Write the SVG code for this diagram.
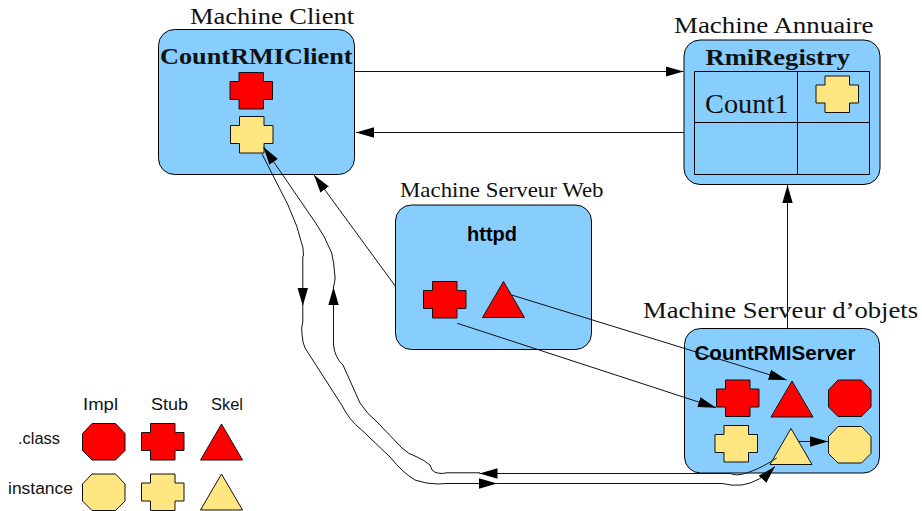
<svg xmlns="http://www.w3.org/2000/svg" width="922" height="511" viewBox="0 0 922 511">
<style>
.box{fill:#87ceff;stroke:#000;stroke-width:1}
.r{fill:#ff0000;stroke:#111;stroke-width:1;stroke-linejoin:miter}
.y{fill:#ffe680;stroke:#111;stroke-width:1;stroke-linejoin:miter}
.grid{fill:none;stroke:#000;stroke-width:1}
.cm{font-family:"Liberation Serif",serif;fill:#111;font-size:24px}
.cmb{font-family:"Liberation Serif",serif;font-weight:bold;fill:#111;font-size:24px}
.hb{font-family:"Liberation Sans",sans-serif;font-weight:bold;fill:#000;font-size:20px}
.ss{font-family:"Liberation Sans",sans-serif;fill:#111;font-size:16px}
.c{fill:none;stroke:#111;stroke-width:1}
.a{marker-end:url(#ah)}
</style>
<defs>
<marker id="ah" markerUnits="userSpaceOnUse" markerWidth="20" markerHeight="16" viewBox="0 0 20 16" refX="18" refY="8" orient="auto"><path d="M0 2.800L18 8L0 13.200Z" fill="#000"/></marker>
<path id="cross" d="M9 0H33.500V9H42.500V27H33.500V36.500H9V27H0V9H9Z"/>
<path id="oct" d="M9.500 0H33L42.500 10V27L33 36.500H9.500L0 27V10Z"/>
<path id="tri" d="M21 0L42 36H0Z"/>
</defs>
<g id="client">
<rect class="box" x="158.500" y="29.500" width="196" height="145" rx="16"/>
<text class="cm" x="190" y="23.500" textLength="164" lengthAdjust="spacingAndGlyphs">Machine Client</text>
<text class="cmb" x="160" y="64" textLength="192.500" lengthAdjust="spacingAndGlyphs">CountRMIClient</text>
<use href="#cross" class="r" x="230" y="72.500"/>
<use href="#cross" class="y" x="230.500" y="116.500"/>
</g>
<g id="annuaire">
<rect class="box" x="684" y="40" width="196" height="144.500" rx="16"/>
<text class="cm" x="674" y="32.500" textLength="199.500" lengthAdjust="spacingAndGlyphs">Machine Annuaire</text>
<text class="cmb" x="705.500" y="64.500" textLength="144.500" lengthAdjust="spacingAndGlyphs">RmiRegistry</text>
<path class="grid" d="M694.500 71.500H869.500V174.500H694.500ZM797.500 71.500V174.500M694.500 122.500H869.500"/>
<text class="cm" x="705" y="112.500" style="font-size:28px" textLength="83.500" lengthAdjust="spacingAndGlyphs">Count1</text>
<use href="#cross" class="y" x="816" y="76"/>
</g>
<g id="web">
<rect class="box" x="395.500" y="205" width="196" height="144.500" rx="16"/>
<text class="cm" x="400" y="197" style="font-size:21px" textLength="203.500" lengthAdjust="spacingAndGlyphs">Machine Serveur Web</text>
<text class="hb" x="467" y="241" textLength="50" lengthAdjust="spacingAndGlyphs">httpd</text>
<use href="#cross" class="r" x="423.500" y="281.500"/>
<use href="#tri" class="r" x="482.500" y="281.500"/>
</g>
<g id="server">
<rect class="box" x="684.500" y="328.500" width="195" height="144.500" rx="16"/>
<text class="cm" x="643" y="318" textLength="275" lengthAdjust="spacingAndGlyphs">Machine Serveur d’objets</text>
<text class="hb" x="694.500" y="360" textLength="161" lengthAdjust="spacingAndGlyphs">CountRMIServer</text>
<use href="#cross" class="r" x="716.500" y="380"/>
<use href="#tri" class="r" x="771" y="381"/>
<use href="#oct" class="r" x="828.500" y="380"/>
<use href="#cross" class="y" x="715" y="425.500"/>
<use href="#tri" class="y" x="770" y="428.500"/>
<use href="#oct" class="y" x="828.500" y="426.500"/>
</g>
<g id="legend">
<text class="ss" x="83" y="410" textLength="35" lengthAdjust="spacingAndGlyphs">Impl</text>
<text class="ss" x="151" y="410" textLength="37" lengthAdjust="spacingAndGlyphs">Stub</text>
<text class="ss" x="211" y="410" textLength="32" lengthAdjust="spacingAndGlyphs">Skel</text>
<text class="ss" x="18" y="444" textLength="42" lengthAdjust="spacingAndGlyphs">.class</text>
<text class="ss" x="8" y="494" textLength="65" lengthAdjust="spacingAndGlyphs">instance</text>
<use href="#oct" class="r" x="82.500" y="423.500"/>
<use href="#cross" class="r" x="141.500" y="423.500"/>
<use href="#tri" class="r" x="200.500" y="424"/>
<use href="#oct" class="y" x="82.500" y="474"/>
<use href="#cross" class="y" x="141.500" y="474"/>
<use href="#tri" class="y" x="200.500" y="474"/>
</g>
<g id="connectors">
<path class="c a" d="M354.500 71.500H683.500"/>
<path class="c a" d="M684 132.500H356"/>
<path class="c a" d="M787.500 328V185"/>
<path class="c a" d="M395.700 286.700L314 175"/>
<path class="c a" d="M511.700 295L786.700 380"/>
<path class="c a" d="M457.300 323.300L716 407.700"/>
<path class="c a" d="M799 441.500H828"/>
<path class="c a" d="M262 154L288 205Q298 226 303 248L303.500 255L302.800 257V306"/>
<path class="c a" d="M302.800 306V322Q301 328 302 334Q302.500 343 305 348L341.700 405Q349 420 361.700 430L390 457Q403 473 415 480Q426 484 438 484L446 483.500H497"/>
<path class="c a" d="M497 483.500H722Q732 486 742 485Q760 482 775 466.500"/>
<path class="c a" d="M776.700 458Q763 467 752 471Q740 476 734 474.500L730 473.500H479.500"/>
<path class="c a" d="M480 472.800H447Q437 475 432 470L430 465Q424 460 417 457Q408 454 402 448L377 422Q367 414 360 403L343 365Q335 358 333.500 345V287"/>
<path class="c a" d="M333.500 287Q335.500 278 335 277Q334 262 331.700 253Q325 236 315 222L263.500 147"/>
</g>
</svg>
